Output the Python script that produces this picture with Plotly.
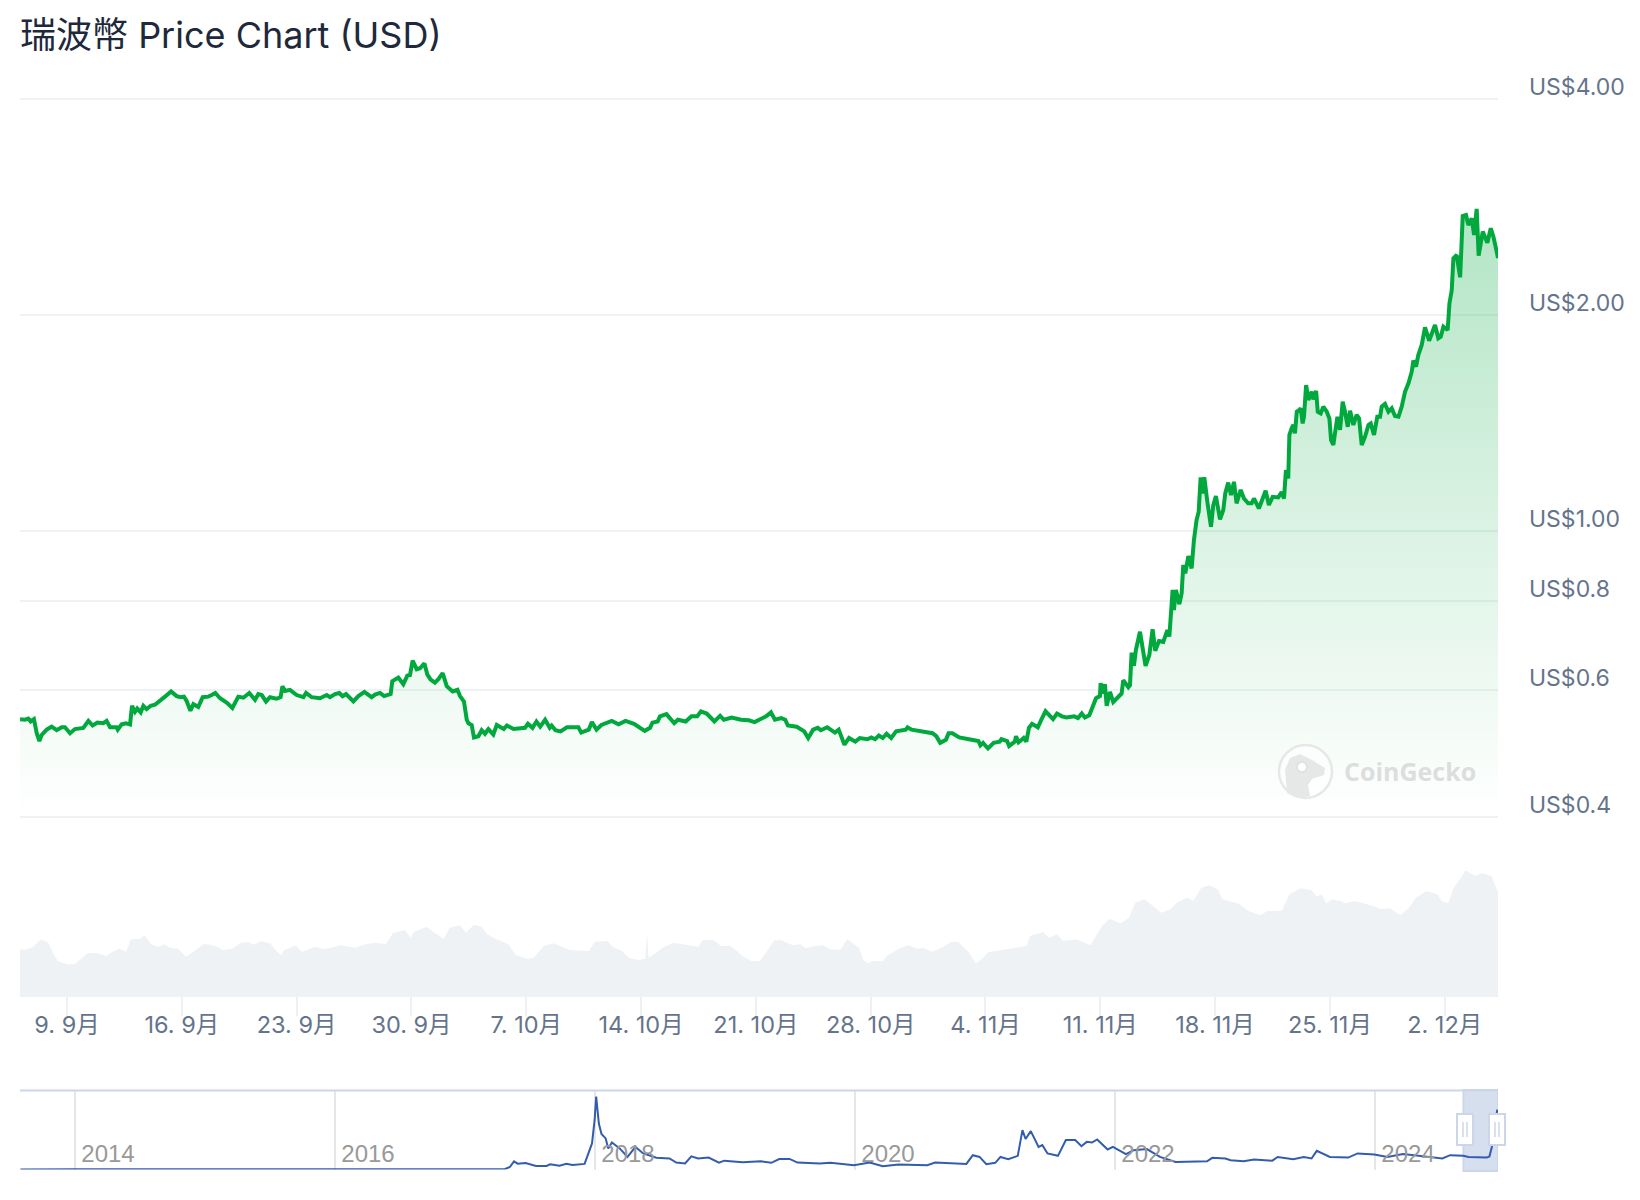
import math
import pandas as pd
import plotly.graph_objects as go

# days since 6 Sep 2024 / price in USD
price_days = [
    0.13, 0.43, 0.64, 0.78, 0.98, 1.15, 1.31, 1.45, 1.76, 2.06, 2.37, 2.67, 2.87, 3.18, 3.48, 3.99, 4.30, 4.56, 4.85, 5.21,
    5.41, 5.62, 6.02, 6.09, 6.33, 6.59, 6.84, 6.96, 7.14, 7.28, 7.49, 7.65, 7.85, 8.10, 8.36, 8.67, 8.97, 9.34, 9.68, 9.93,
    10.13, 10.29, 10.52, 10.70, 11.00, 11.27, 11.61, 11.82, 12.04, 12.33, 12.73, 13.08, 13.44, 13.75, 14.11, 14.46, 14.66, 14.87, 15.13, 15.37,
    15.78, 16.02, 16.13, 16.29, 16.59, 17.00, 17.41, 17.57, 17.91, 18.42, 18.83, 19.03, 19.34, 19.60, 19.80, 20.01, 20.46, 20.76, 21.13, 21.57,
    21.78, 22.08, 22.33, 22.73, 22.83, 23.20, 23.50, 23.75, 23.91, 24.07, 24.32, 24.52, 24.79, 24.97, 25.17, 25.43, 25.64, 25.90, 26.04, 26.15,
    26.51, 26.80, 26.96, 27.20, 27.37, 27.47, 27.67, 27.81, 28.08, 28.28, 28.48, 28.69, 28.99, 29.20, 29.44,
    29.63, 29.82, 30.22, 30.92, 31.10, 31.38, 31.62, 31.85, 32.15, 32.43, 32.55, 32.78, 33.09, 33.48, 34.18, 34.35, 34.81, 35.00, 35.28, 35.58,
    35.82, 36.21, 36.63, 37.05, 37.57, 38.22, 38.55, 38.69, 39.01, 39.15, 39.55, 39.79, 40.02, 40.25, 40.72, 41.07, 41.42, 41.65, 42.00, 42.47,
    42.82, 43.05, 43.52, 44.10, 44.57, 44.92, 45.27, 45.62, 45.92, 46.16, 46.55, 46.79, 46.95, 47.49, 47.95, 48.19, 48.49, 48.77, 48.96, 49.35,
    49.82, 50.05, 50.40, 50.68, 51.06, 51.34, 51.80, 52.04, 52.27, 52.50, 52.74, 52.97, 53.25, 53.55, 54.14, 54.25, 54.49, 55.07, 55.77, 56.00,
    56.24, 56.59, 56.75, 56.98, 57.40, 57.99, 58.57, 58.69, 58.85, 59.15, 59.50, 59.86, 59.97, 60.32, 60.44, 60.79, 60.86, 61.02, 61.33, 61.49,
    61.65, 61.84, 62.19, 62.42, 62.66, 63.12, 63.36, 63.66, 63.94, 64.41, 64.64, 64.87,
    65.06, 65.33, 65.57, 65.74, 65.98, 66.02, 66.14, 66.28, 66.39, 66.59, 66.79, 67.10, 67.30, 67.40, 67.71, 67.81, 67.91, 68.05, 68.17, 68.42,
    68.76, 68.99, 69.19, 69.35, 69.58, 69.84, 70.09, 70.21, 70.41, 70.49, 70.61, 70.82, 70.96, 71.06, 71.18, 71.37, 71.57, 71.71, 71.87, 72.00,
    72.12, 72.24, 72.34, 72.54, 72.75, 72.89, 73.05, 73.30, 73.50, 73.62, 73.80, 73.97, 74.15, 74.31, 74.56, 74.76, 75.02, 75.23, 75.37, 75.67,
    75.94, 76.08, 76.28, 76.51, 76.85, 77.06, 77.20, 77.32, 77.46,
    77.53, 77.67, 77.77, 77.87, 77.98, 78.14, 78.22, 78.34, 78.42, 78.55, 78.69, 78.89, 78.99, 79.16, 79.26, 79.44, 79.60, 79.81, 79.97, 80.07,
    80.21, 80.31, 80.46, 80.62, 80.78, 80.92, 81.09, 81.23, 81.43, 81.63, 81.78, 81.94, 82.14, 82.35, 82.49, 82.69, 82.89, 83.06, 83.16, 83.36,
    83.57, 83.77, 83.97, 84.18, 84.38, 84.58, 84.79, 84.99, 85.09, 85.25, 85.39, 85.60, 85.80, 86.05, 86.21, 86.41, 86.61, 86.76, 86.92, 87.18,
    87.29, 87.43, 87.53, 87.73, 87.94, 88.10, 88.30, 88.44, 88.65, 88.79, 88.95, 89.07, 89.32, 89.60, 89.81, 89.97, 90.17, 90.25,
]
price_vals = [
    .547, .546, .548, .543, .547, .523, .510, .520, .529, .534, .528, .533, .533, .523, .530, .532, .544, .536, .541, .540,
    .544, .533, .533, .529, .538, .540, .538, .571, .560, .566, .559, .571, .565, .571, .573, .580, .588, .598, .589, .587,
    .588, .580, .562, .574, .569, .587, .588, .591, .595, .585, .577, .567, .588, .586, .595, .582, .593, .591, .579, .587,
    .584, .587, .608, .599, .601, .591, .587, .595, .587, .585, .591, .587, .593, .595, .589, .593, .579, .589, .597, .587,
    .592, .595, .589, .593, .618, .625, .612, .629, .630, .660, .642, .644, .654, .631, .621, .615, .622, .634, .615, .608,
    .598, .601, .589, .579, .546, .540, .537, .516, .518, .528, .522, .530, .521, .537, .533,
    .530, .536, .530, .532, .539, .532, .543, .534, .546, .532, .536, .528, .526, .533, .533, .524, .529, .542, .529, .537,
    .540, .544, .538, .544, .539, .527, .532, .541, .543, .552, .556, .547, .540, .546, .543, .552, .552, .561, .557, .543,
    .553, .546, .550, .546, .545, .542, .547, .552, .559, .546, .549, .546, .536, .534, .526, .515, .529, .532, .528, .533,
    .524, .529, .504, .515, .509, .515, .513, .516, .513, .519, .515, .522, .515, .526, .529, .533, .529, .526, .523, .518,
    .507, .512, .523, .523, .516, .513, .510, .503, .507, .498, .507, .509, .513, .510, .502, .509, .518, .508, .515, .509,
    .532, .539, .533, .547, .561, .547, .557, .552, .550, .552, .549, .557,
    .550, .554, .572, .585, .589, .614, .594, .612, .571, .597, .578, .588, .594, .620, .606, .610, .677, .649, .683, .724,
    .649, .672, .730, .681, .703, .701, .728, .713, .828, .776, .828, .791, .819, .897, .873, .923, .887, .972, 1.036, 1.064,
    1.188, 1.128, 1.188, 1.093, 1.014, 1.087, 1.119, 1.038, 1.070, 1.128, 1.168, 1.122, 1.171, 1.093, 1.141, 1.110, 1.093, 1.093, 1.110, 1.075,
    1.122, 1.138, 1.087, 1.116, 1.114, 1.133, 1.110, 1.216, 1.184,
    1.361, 1.390, 1.405, 1.368, 1.466, 1.474, 1.482, 1.412, 1.443, 1.597, 1.522, 1.563, 1.525, 1.567, 1.466, 1.458, 1.490, 1.466, 1.435, 1.339,
    1.318, 1.368, 1.443, 1.383, 1.514, 1.466, 1.397, 1.471, 1.405, 1.451, 1.435, 1.318, 1.353, 1.405, 1.412, 1.361, 1.443, 1.443, 1.490, 1.503,
    1.466, 1.482, 1.446, 1.443, 1.490, 1.563, 1.606, 1.667, 1.727, 1.694, 1.758, 1.816, 1.922, 1.841, 1.885, 1.936, 1.855, 1.865, 1.926, 1.905,
    2.075, 2.166, 2.398, 2.423, 2.256, 2.746, 2.755, 2.668, 2.726, 2.584, 2.809, 2.418, 2.612, 2.521, 2.640, 2.570, 2.45, 2.40,
]

# relative trading volume (no scale shown on the chart)
volume_days = [
    0.13, 0.42, 0.85, 1.42, 1.86, 2.14, 2.43, 3.01, 3.44, 3.87, 4.30, 4.88, 5.40, 5.74, 6.17, 6.60, 6.89, 7.47, 7.70, 8.13,
    8.53, 8.94, 9.28, 9.77, 10.26, 10.92, 11.35, 12.07, 12.50, 13.08, 13.60, 14.09, 14.37, 14.81, 15.38, 15.67, 16.04, 16.25, 16.96, 17.31,
    18.12, 18.69, 19.70, 20.56, 21.28, 21.86, 22.43, 22.86, 23.58, 23.96, 24.16, 24.94, 25.31, 25.97, 26.32, 26.95, 27.32, 27.81, 28.27, 28.62,
    29.19, 29.91, 30.35, 31.07, 31.44, 32.07, 32.65, 33.65, 34.81, 35.18, 35.96, 36.25, 36.82, 37.25, 37.83, 38.26, 38.35, 38.46, 39.41, 39.99,
    41.00, 41.48, 41.77, 42.43, 42.86, 43.44, 43.87, 44.16, 44.73, 45.25, 45.68, 46.11, 46.54, 47.26, 47.70, 48.04, 48.56, 49.13, 49.51, 50.14,
    50.57, 51.29, 51.52, 51.81, 52.16, 52.73, 53.02, 53.74, 54.31, 54.89, 55.18, 55.75, 56.33, 56.90, 57.34, 57.91, 58.43, 58.78, 59.21, 60.50,
    61.51, 61.71, 62.52, 62.86, 63.38, 63.72, 64.53, 65.39, 65.74, 66.11, 66.55, 67.26, 67.75, 68.13, 68.70, 69.71, 70.29, 70.72, 71.29, 71.67,
    72.16, 72.65, 73.16, 73.45, 74.46, 75.03, 75.75, 76.19, 77.05, 77.54, 78.20, 78.86, 79.21, 79.49, 79.78, 80.13, 80.65, 80.93, 81.51, 82.23,
    82.66, 83.09, 83.67, 84.30, 84.82, 85.25, 85.88, 86.55, 86.83, 87.21, 87.55, 87.93, 88.27, 88.85, 89.28, 89.86, 90.20, 90.25,
]
volume_vals = [
    45.7, 45, 47.3, 55.7, 52.3, 42.3, 34, 30.7, 30.7, 36.7, 42.3, 41.7, 39, 43, 46.3, 43.3, 55.7, 56.3, 59.7, 50.7,
    48.3, 50.7, 47.3, 46.3, 38.3, 45.7, 51.3, 49, 45, 46.3, 52.3, 53, 50.3, 53.7, 51.7, 45.7, 39.7, 45, 49.7, 43,
    48.3, 45.7, 49.7, 47.3, 51.3, 52.3, 50.7, 61.7, 65, 57.3, 63.3, 68.3, 63.3, 56.3, 67.3, 69.7, 62.3, 70.3, 68.3, 60.7,
    55.7, 50.7, 40, 36.3, 37.3, 49, 51.7, 45, 44, 53.3, 54, 48.3, 44, 37.3, 35, 36.3, 63, 37, 48.3, 52.3,
    49.7, 48.3, 55, 55, 49, 49, 44, 39, 34, 34, 44, 54.7, 54.7, 49.7, 50.7, 46.7, 49, 49.7, 45.7, 45,
    55.7, 47.3, 35.7, 31.7, 34, 34, 39.7, 46.3, 49.7, 46.3, 47.3, 43.3, 47.3, 53, 53, 44, 31.7, 36.3, 43, 46.3,
    49, 59, 63, 57.3, 60.7, 54, 55.7, 49.7, 59.7, 69, 76.3, 71.7, 77.3, 92.3, 95.7, 82.3, 85.7, 93, 97.3, 94,
    107.3, 109.7, 105.7, 95.7, 91.3, 84, 79.7, 84, 84, 100.7, 106.7, 105, 98.3, 100.7, 91.7, 95.7, 94, 91.7, 94, 90.7,
    89, 85.7, 86.7, 79.7, 87.3, 97.3, 104, 100.7, 94, 91.7, 107.3, 115.7, 125, 119, 121.7, 119, 105, 103,
]

# all-time price for the navigator strip (decimal year / USD)
nav_years = [
    2013.58, 2013.90, 2014.00, 2014.30, 2015.00, 2016.00, 2017.00, 2017.20, 2017.305, 2017.345, 2017.377, 2017.405, 2017.466, 2017.546, 2017.627,
    2017.655, 2017.727, 2017.78, 2017.827, 2017.92, 2017.948, 2017.977, 2017.997, 2018.009, 2018.03, 2018.05, 2018.082, 2018.102, 2018.13, 2018.19,
    2018.25, 2018.311, 2018.371, 2018.472, 2018.573, 2018.625, 2018.693, 2018.741, 2018.793, 2018.874, 2018.954, 2018.994, 2019.135, 2019.276, 2019.356,
    2019.417, 2019.497, 2019.557, 2019.73, 2019.811, 2019.992, 2020.113, 2020.214, 2020.334, 2020.556, 2020.616, 2020.857, 2020.906, 2020.958, 2021.01,
    2021.079, 2021.119, 2021.179, 2021.252, 2021.288, 2021.312, 2021.352, 2021.412, 2021.441, 2021.481, 2021.561, 2021.622, 2021.694, 2021.742, 2021.782,
    2021.823, 2021.863, 2021.943, 2021.984, 2022.084, 2022.144, 2022.245, 2022.346, 2022.466, 2022.708, 2022.748, 2022.849, 2022.889, 2022.989, 2023.07,
    2023.21, 2023.251, 2023.371, 2023.452, 2023.512, 2023.552, 2023.653, 2023.794, 2023.866, 2023.995, 2024.095, 2024.216, 2024.518, 2024.578, 2024.679,
    2024.719, 2024.86, 2024.88, 2024.90, 2024.92, 2024.94,
]
nav_vals = [
    .01, .03, .02, .012, .01, .007, .0065, .01, .015, .12, .38, .27, .30, .17, .17,
    .24, .18, .27, .21, .26, .74, 1.20, 2.27, 3.34, 2.10, 1.63, 1.43, .97, 1.24, .97,
    .58, 1.04, .74, .54, .51, .32, .28, .61, .51, .55, .32, .41, .34, .38, .31,
    .48, .49, .32, .28, .31, .20, .32, .15, .23, .20, .32, .26, .66, .58, .25,
    .31, .58, .48, .63, 1.81, 1.40, 1.76, 1.04, 1.12, .74, .63, 1.35, 1.35, 1.07, 1.27,
    1.24, 1.38, .92, 1.04, .71, .89, .94, .58, .35, .38, .54, .51, .43, .38, .46,
    .41, .58, .48, .58, .51, .86, .58, .55, .74, .69, .58, .71, .51, .66, .63,
    .58, .55, .60, 1.07, 2.00, 2.75,
]

price_ticks = [4, 2, 1, 0.8, 0.6, 0.4]
price_tick_labels = ['US$4.00', 'US$2.00', 'US$1.00', 'US$0.8', 'US$0.6', 'US$0.4']
date_ticks = ['2024-09-09', '2024-09-16', '2024-09-23', '2024-09-30', '2024-10-07', '2024-10-14', '2024-10-21',
              '2024-10-28', '2024-11-04', '2024-11-11', '2024-11-18', '2024-11-25', '2024-12-02']
date_labels = ['9. 9月', '16. 9月', '23. 9月', '30. 9月', '7. 10月', '14. 10月', '21. 10月',
               '28. 10月', '4. 11月', '11. 11月', '18. 11月', '25. 11月', '2. 12月']
year_ticks = [2014, 2016, 2018, 2020, 2022, 2024]

W, H = 1640, 1200
LEFT, RIGHT = 20, 1498
FONT = "Inter, 'Noto Sans CJK TC', sans-serif"
GRID = '#eff2f5'
NAV_EDGE = '#ccd6eb'
# octave height of the log axis in px, used to pad the range so the end gridlines are kept
OCTAVE = 216.2
PAD = 3


def px(x):
    return x / W


def py(y):
    return 1 - y / H


start = pd.Timestamp('2024-09-06')
price_x = start + pd.to_timedelta(price_days, unit='D')
volume_x = start + pd.to_timedelta(volume_days, unit='D')

fig = go.Figure()

# invisible floor so the gradient stops at the bottom gridline
fig.add_trace(go.Scatter(x=price_x, y=[0.4] * len(price_x), mode='lines', line=dict(width=0),
                         hoverinfo='skip', showlegend=False))
fig.add_trace(go.Scatter(x=price_x, y=price_vals, mode='lines', fill='tonexty',
                         line=dict(color='#00a83e', width=4), showlegend=False,
                         fillgradient=dict(type='vertical',
                                           colorscale=[[0, 'rgba(0,168,62,0)'], [1, 'rgba(0,168,62,0.3)']])))
fig.add_trace(go.Scatter(x=volume_x, y=volume_vals, mode='lines', fill='tozeroy', yaxis='y2',
                         line=dict(width=0, color='#eff2f5'), fillcolor='#eff2f5', showlegend=False))
fig.add_trace(go.Scatter(x=nav_years, y=nav_vals, mode='lines', xaxis='x2', yaxis='y3',
                         line=dict(color='#335cad', width=2), showlegend=False))

# navigator selection window, computed from the main range
sel_start = 2024 + (start - pd.Timestamp('2024-01-01')).days / 366
sel_end = 2024.946
shapes = [
    dict(type='rect', xref='x2', yref='paper', x0=sel_start, x1=sel_end, y0=py(1171), y1=py(1090),
         fillcolor='#d6dfee', line=dict(color=NAV_EDGE, width=2), layer='below'),
    dict(type='line', xref='paper', yref='paper', x0=px(LEFT), x1=px(RIGHT), y0=py(1090.5), y1=py(1090.5),
         line=dict(color=NAV_EDGE, width=2)),
]
# navigator handles
for left, bar1, bar2, right in [(1457, 1463, 1467, 1473), (1489, 1495, 1499, 1505)]:
    shapes.append(dict(type='rect', xref='paper', yref='paper', x0=px(left), x1=px(right), y0=py(1145), y1=py(1114),
                       fillcolor='white', line=dict(color=NAV_EDGE, width=2)))
    for bar in (bar1, bar2):
        shapes.append(dict(type='line', xref='paper', yref='paper', x0=px(bar), x1=px(bar), y0=py(1137), y1=py(1122),
                           line=dict(color=NAV_EDGE, width=1.5)))

# CoinGecko watermark
shapes.append(dict(type='circle', xref='paper', yref='paper', x0=px(1279), x1=px(1332), y0=py(798), y1=py(745),
                   fillcolor='rgba(255,255,255,0.55)', line=dict(color='#e6e8e8', width=2.5)))
gecko = [(1287, 793), (1285, 770), (1290, 758), (1300, 754), (1312, 760), (1325, 768), (1324, 775), (1312, 779),
         (1308, 785), (1310, 796), (1298, 798)]
gecko_path = 'M ' + ' L '.join(f'{px(a):.5f},{py(b):.5f}' for a, b in gecko) + ' Z'
shapes.append(dict(type='path', xref='paper', yref='paper', path=gecko_path, fillcolor='#e6e8e8', line=dict(width=0)))
shapes.append(dict(type='circle', xref='paper', yref='paper', x0=px(1297), x1=px(1307), y0=py(772), y1=py(762),
                   fillcolor='white', line=dict(color='#dcdede', width=1.5)))

pad_log = math.log10(2) * PAD / OCTAVE

fig.update_layout(
    width=W, height=H,
    margin=dict(l=0, r=0, t=0, b=0),
    paper_bgcolor='white', plot_bgcolor='white',
    showlegend=False,
    font=dict(family=FONT),
    title=dict(text='瑞波幣 Price Chart (USD)', x=px(20), y=py(35), xanchor='left', yanchor='middle',
               font=dict(family=FONT, size=36, color='#1e293b')),
    xaxis=dict(domain=[px(LEFT), px(RIGHT)], anchor='y2', type='date', automargin=False,
               range=[start + pd.Timedelta(days=0.13), start + pd.Timedelta(days=90.25)],
               tickmode='array', tickvals=date_ticks, ticktext=date_labels,
               ticks='outside', ticklen=19, tickwidth=1.5, tickcolor='#eef0f3',
               ticklabelstandoff=-11,
               showgrid=False, showline=True, linecolor=GRID, linewidth=2, zeroline=False,
               tickfont=dict(family=FONT, size=23.5, color='#64748b')),
    yaxis=dict(domain=[py(816.8 + PAD), py(98.7 - PAD)], anchor='x', side='right', type='log', automargin=False,
               range=[math.log10(0.4) - pad_log, math.log10(4) + pad_log],
               tickmode='array', tickvals=price_ticks, ticktext=price_tick_labels,
               showgrid=True, gridcolor=GRID, gridwidth=2, zeroline=False, showline=False, ticks='',
               ticklabelstandoff=30, ticklabelshift=-12,
               tickfont=dict(family=FONT, size=23, color='#64748b')),
    yaxis2=dict(domain=[py(995), py(871)], anchor='x', range=[0, 124], visible=False),
    xaxis2=dict(domain=[px(LEFT), px(RIGHT)], anchor='y3', range=[2013.577, 2024.946], automargin=False,
                tickmode='array', tickvals=year_ticks, ticktext=[str(y) for y in year_ticks],
                ticks='', ticklabelposition='inside', ticklabelshift=33,
                showgrid=True, gridcolor='#e6e6e6', gridwidth=2, zeroline=False, showline=False,
                tickfont=dict(family="'Liberation Sans', Arial, sans-serif", size=24, color='#999999')),
    yaxis3=dict(domain=[py(1169.6), py(1091)], anchor='x2', range=[0, 3.6], visible=False),
    shapes=shapes,
    annotations=[dict(text='<b>CoinGecko</b>', xref='paper', yref='paper', x=px(1342), y=py(771),
                      xanchor='left', yanchor='middle', showarrow=False,
                      font=dict(family="'Open Sans', sans-serif", size=25, color='#dcdede'))],
)

fig.write_html("out.html", config=dict(displayModeBar=False), post_script="document.body.style.margin='0';")
